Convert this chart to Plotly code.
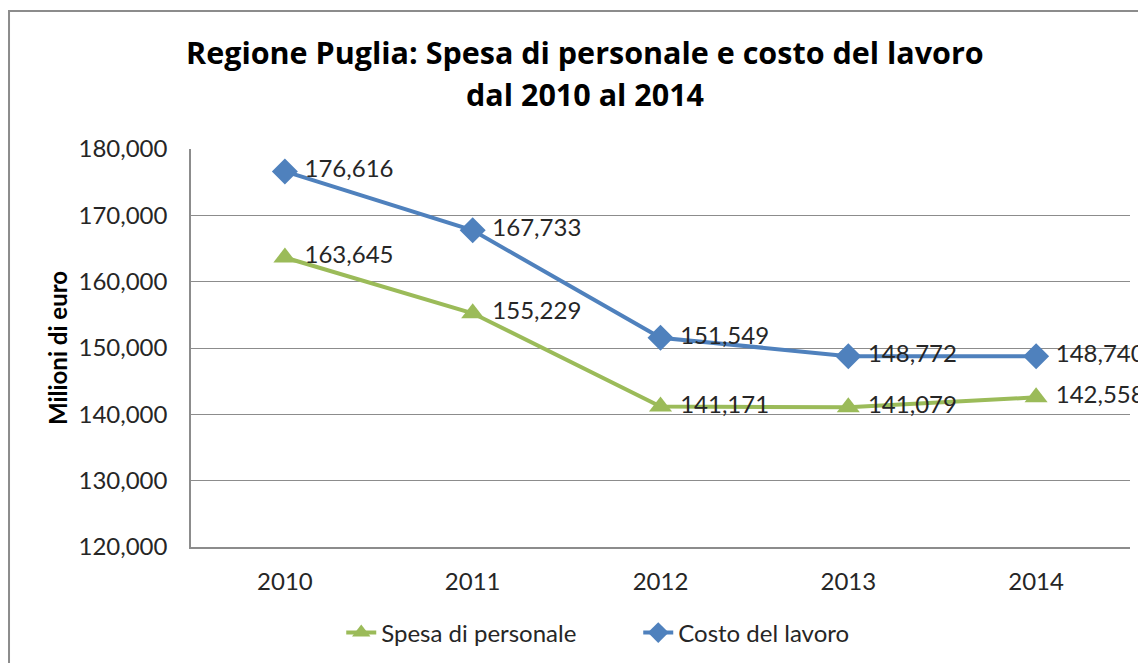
import plotly.graph_objects as go

anni = ["2010", "2011", "2012", "2013", "2014"]
spesa_personale = [163645, 155229, 141171, 141079, 142558]
costo_lavoro = [176616, 167733, 151549, 148772, 148740]
y_ticks = [120000, 130000, 140000, 150000, 160000, 170000, 180000]

BLUE = "#4F81BD"
GREEN = "#9BBB59"
FONT = "Lato"
TEXT = "#262626"

fig = go.Figure()

fig.add_trace(
    go.Scatter(
        x=anni, y=spesa_personale, mode="lines+markers+text",
        name="Spesa di personale",
        line=dict(color=GREEN, width=4),
        marker=dict(symbol="triangle-up", size=20, color=GREEN),
        texttemplate=" %{y:,}", textposition="middle right",
        textfont=dict(size=24, color=TEXT), cliponaxis=False,
    )
)
fig.add_trace(
    go.Scatter(
        x=anni, y=costo_lavoro, mode="lines+markers+text",
        name="Costo del lavoro",
        line=dict(color=BLUE, width=4),
        marker=dict(symbol="diamond", size=20, color=BLUE),
        texttemplate=" %{y:,}", textposition="middle right",
        textfont=dict(size=24, color=TEXT), cliponaxis=False,
    )
)

# the page body has an 8px margin, so the figure is drawn 8px smaller
fig.update_layout(
    width=1138, height=655,
    margin=dict(l=183, r=16, t=141, b=116, autoexpand=False),
    paper_bgcolor="white", plot_bgcolor="white",
    font=dict(family=FONT, size=24, color=TEXT),
    showlegend=True,
    legend=dict(
        orientation="h", x=0.16, xanchor="left", y=-0.216, yanchor="middle",
        font=dict(size=24), entrywidth=252, entrywidthmode="pixels",
        traceorder="normal",
    ),
    annotations=[
        dict(text="<b>Regione Puglia: Spesa di personale e costo del lavoro</b>",
             xref="paper", yref="paper", x=0.4196, y=1.2435, yanchor="middle",
             showarrow=False,
             font=dict(family="Open Sans", size=30.5, color="black")),
        dict(text="<b>dal 2010 al 2014</b>",
             xref="paper", yref="paper", x=0.4196, y=1.1385, yanchor="middle",
             showarrow=False,
             font=dict(family="Open Sans", size=30.5, color="black")),
    ],
    shapes=[
        dict(type="rect", xref="paper", yref="paper",
             x0=-0.1938, x1=1.03, y0=-0.35, y1=1.347,
             line=dict(color="#8C8C8C", width=2), layer="below"),
    ],
)

fig.update_xaxes(
    range=[-0.5, 4.5], automargin=False,
    showline=True, linecolor="#8C8C8C", linewidth=1.5,
    showgrid=False, ticks="", ticklabelstandoff=12,
)
fig.update_yaxes(
    range=[120000, 180000], tickvals=y_ticks, tickformat=",", automargin=False,
    showline=True, linecolor="#8C8C8C", linewidth=1.5,
    showgrid=True, gridcolor="#8C8C8C", gridwidth=1.2,
    zeroline=False, ticks="", ticklabelstandoff=17,
    title=dict(text="<b>Milioni di euro</b>", font=dict(size=24, color="black"), standoff=4),
)

fig.write_html("out.html")
